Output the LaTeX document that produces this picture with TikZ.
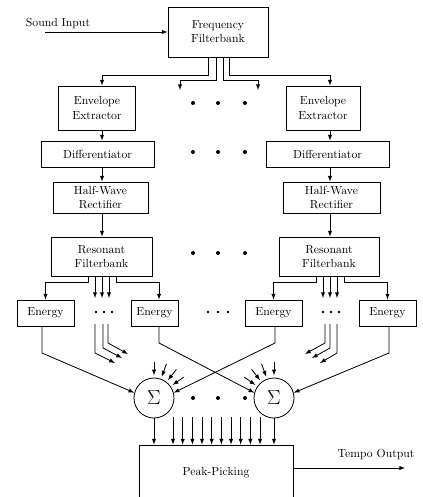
\documentclass[tikz,border=0pt]{standalone}
\usetikzlibrary{calc,positioning}
\tikzset{
  blk/.style 2 args={draw, line width=0.8pt, align=center, inner sep=1pt,
    minimum width=#1cm, minimum height=#2cm},
  sumnode/.style={draw, circle, line width=0.7pt, minimum size=1.2cm, inner sep=0pt, font=\LARGE},
  wire/.style={->, line width=0.7pt},
}
\begin{document}
\begin{tikzpicture}[x=0.03cm,y=-0.03cm,>=latex]
		\useasboundingbox (0,0) rectangle (423,497);
		% boxes
		\node[blk={3.0}{1.5}] (ff) at (218,32) {Frequency\\Filterbank};
		\node[blk={2.31}{1.32}] (envL) at (97,108) {Envelope\\Extractor};
		\node[blk={2.22}{1.32}] (envR) at (323,108) {Envelope\\Extractor};
		\node[blk={3.39}{0.78}] (difL) at (97.5,154) {Differentiator};
		\node[blk={3.69}{0.78}] (difR) at (327.5,154) {Differentiator};
		\node[blk={2.85}{0.93}] (hwrL) at (100.5,197.5) {Half-Wave\\Rectifier};
		\node[blk={2.91}{0.93}] (hwrR) at (331.5,197.5) {Half-Wave\\Rectifier};
		\node[blk={3.03}{1.17}] (rfL) at (101.5,256.5) {Resonant\\Filterbank};
		\node[blk={3.0}{1.17}] (rfR) at (329,256.5) {Resonant\\Filterbank};
		\node[blk={1.71}{0.78}] (eA) at (45.5,313) {Energy};
		\node[blk={1.41}{0.78}] (eB) at (154.5,313) {Energy};
		\node[blk={1.71}{0.78}] (eC) at (273.5,313) {Energy};
		\node[blk={1.71}{0.78}] (eD) at (387.5,313) {Energy};
		\node[sumnode] (sL) at (154,398) {$\Sigma$};
		\node[sumnode] (sR) at (274,398) {$\Sigma$};
		\node[blk={4.62}{1.68}] (pp) at (216,473) {Peak-Picking};
		\node (snd) at (58,24) {Sound Input};
		\node (tmp) at (376,455) {Tempo Output};
		% columns and free ends
		\coordinate (cL) at (102,0);
		\coordinate (cR) at (330,0);
		\coordinate (in) at (45,32);
		\coordinate (out) at (405,468);
		\coordinate (dotL) at (180,90);
		\coordinate (dotR) at (258,90);
		% input and filterbank outputs
		\draw[wire] (in) -- (ff.west |- in);
		\draw[wire] ($(ff.south)+(-10,0)$) -- ++(0,18) -| (envL.north -| cL);
		\draw[wire] ($(ff.south)+(-2,0)$) -- ++(0,23) -| (dotL);
		\draw[wire] ($(ff.south)+(5,0)$) -- ++(0,23) -| (dotR);
		\draw[wire] ($(ff.south)+(11,0)$) -- ++(0,18) -| (envR.north -| cR);
		% chains
		\draw[wire] (envL.south -| cL) -- (difL.north -| cL);
		\draw[wire] (difL.south -| cL) -- (hwrL.north -| cL);
		\draw[wire] (hwrL.south -| cL) -- (rfL.north -| cL);
		\draw[wire] (envR.south -| cR) -- (difR.north -| cR);
		\draw[wire] (difR.south -| cR) -- (hwrR.north -| cR);
		\draw[wire] (hwrR.south -| cR) -- (rfR.north -| cR);
		% resonant filterbank outputs
		\draw[wire] ($(rfL.south)+(-13.5,0)$) -- ++(0,6) -| (eA.north);
		\draw[wire] ($(rfL.south)+(14.5,0)$) -- ++(0,6) -| (eB.north -| 159,0);
		\foreach \x in {95,102,109}
			\draw[wire] (rfL.south -| \x,0) -- (\x,298);
		\draw[wire] ($(rfR.south)+(-13,0)$) -- ++(0,6) -| (eC.north);
		\draw[wire] ($(rfR.south)+(15,0)$) -- ++(0,6) -| (eD.north);
		\foreach \x in {323,330,337}
			\draw[wire] (rfR.south -| \x,0) -- (\x,298);
		% dots
		\foreach \x in {193,218,245}
			\foreach \y in {103,152,253,398}
				\fill (\x,\y) circle[radius=1.7pt];
		\foreach \x in {96,104,112,208,218,228,323,331,339}
			\fill (\x,312) circle[radius=1.2pt];
		% bent outputs below the dots
		\draw[wire] (95,324) -- (95,353) -- (115,363);
		\draw[wire] (103,324) -- (103,348) -- (122,358);
		\draw[wire] (108,324) -- (108,343) -- (128,354);
		\draw[wire] (337,324) -- (337,353) -- (320,363);
		\draw[wire] (330,324) -- (330,348) -- (312,358);
		\draw[wire] (325,324) -- (325,343) -- (305,354);
		% energies to sums
		\draw[wire] (eA.south -| 42,0) -- (42,353) -- (sL.165);
		\draw[wire] (eB.south -| 159,0) -- (159,343) -- (sR.165);
		\draw[wire] (eC.south -| 275,0) -- (275,343) -- (sL.15);
		\draw[wire] (eD.south -| 389,0) -- (389,353) -- (sR.15);
		\foreach \a in {90,70,52,35}
			\draw[<-, line width=0.7pt, shorten <=2pt] (sL.\a) -- ++(-\a:16);
		\foreach \a in {90,110,128,145}
			\draw[<-, line width=0.7pt, shorten <=2pt] (sR.\a) -- ++(-\a:16);
		% into peak-picking
		\draw[wire] (sL.south) -- (pp.north -| sL);
		\draw[wire] (sR.south) -- (pp.north -| sR);
		\foreach \i in {0,...,9}
			\draw[wire] (173+9.67*\i,417) -- (pp.north -| 173+9.67*\i,0);
		\draw[wire] (pp.east |- out) -- (out);
\end{tikzpicture}
\end{document}
